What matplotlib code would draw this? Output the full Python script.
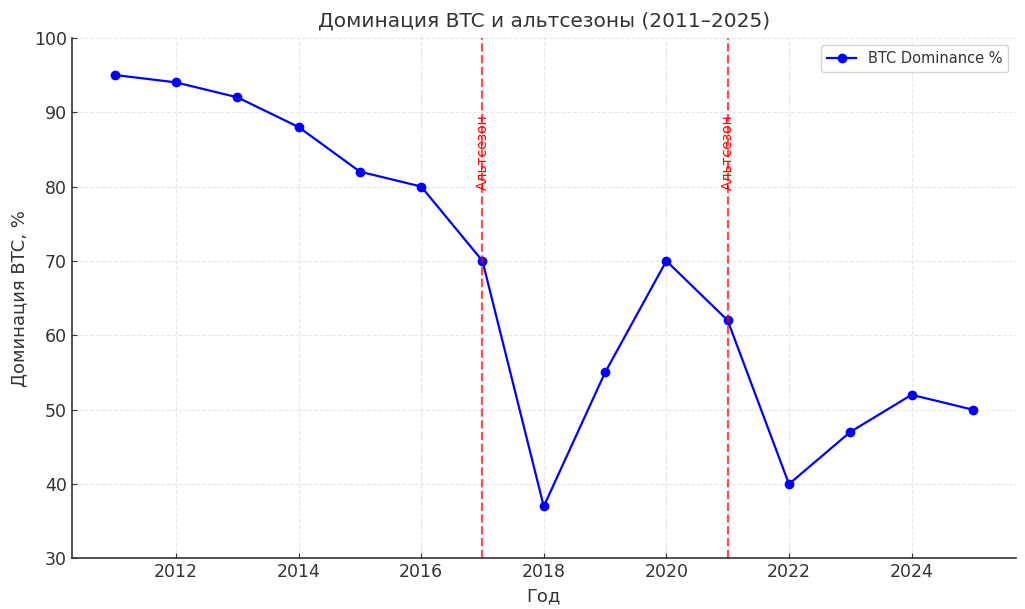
import matplotlib
matplotlib.use("Agg")
import matplotlib.pyplot as plt

# BTC dominance by year
years = [2011, 2012, 2013, 2014, 2015, 2016, 2017, 2018,
         2019, 2020, 2021, 2022, 2023, 2024, 2025]
dominance = [95, 94, 92, 88, 82, 80, 70, 37, 55, 70, 62, 40, 47, 52, 50]

# altseason markers
alt_years = [2017, 2021]
alt_label = "Альтсезон"

text_color = "#333333"
plt.rcParams["text.color"] = text_color
plt.rcParams["axes.labelcolor"] = text_color
plt.rcParams["xtick.color"] = text_color
plt.rcParams["ytick.color"] = text_color

fig, ax = plt.subplots(figsize=(10.25, 6.09), dpi=100)
fig.subplots_adjust(left=0.070, right=0.991, top=0.938, bottom=0.083)

ax.plot(years, dominance, color="blue", marker="o", markersize=6,
        linewidth=1.6, label="BTC Dominance %")

for yr in alt_years:
    ax.axvline(yr, color="red", linestyle="--", linewidth=1.6, alpha=0.7)
    ax.text(yr, 79.5, alt_label, rotation=90, color="red", fontsize=10,
            ha="center", va="bottom")

ax.set_ylim(30, 100)
ax.set_title("Доминация BTC и альтсезоны (2011–2025)", fontsize=14.5, pad=8)
ax.set_xlabel("Год", fontsize=13)
ax.set_ylabel("Доминация BTC, %", fontsize=13)
ax.tick_params(direction="in", labelsize=12.5)
ax.grid(True, linestyle="--", color="#dddddd", linewidth=0.8, alpha=0.7)
for s in ("top", "right"):
    ax.spines[s].set_visible(False)
for s in ("left", "bottom"):
    ax.spines[s].set_color(text_color)
    ax.spines[s].set_linewidth(1.2)

ax.legend(loc="upper right", fontsize=10.5)

fig.savefig("out.png", dpi=100)
